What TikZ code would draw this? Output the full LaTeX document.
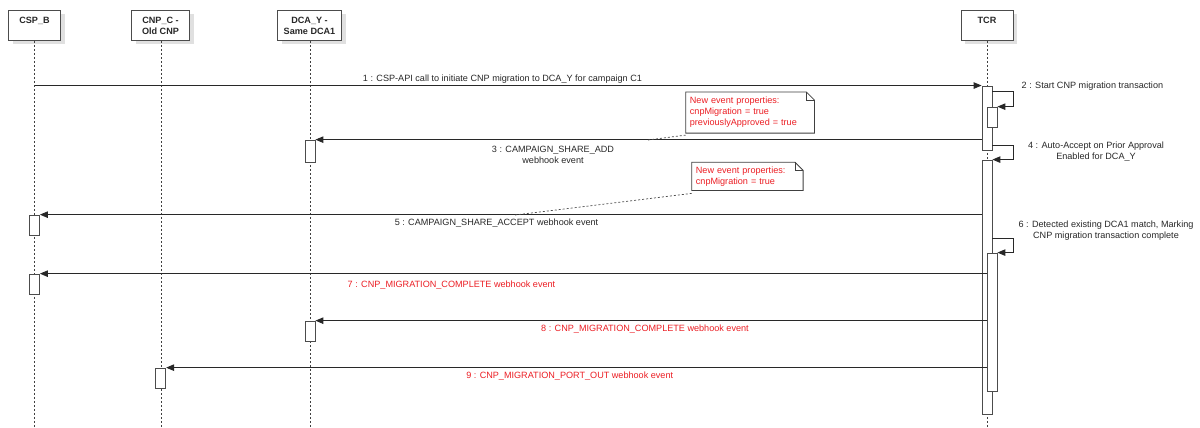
\documentclass[tikz,border=0pt]{standalone}
\usepackage{fontspec}
\setmainfont{Liberation Sans}
\usetikzlibrary{arrows.meta,calc,shadows}
\definecolor{evred}{RGB}{236,30,36}
\definecolor{ink}{RGB}{40,40,40}

% folded-corner outline drawn around a note node
\newcommand\foldednote[1]{%
  \draw[noteline] (#1.north west) -- ([xshift=-8pt]#1.north east)
    -- ([yshift=-8pt]#1.north east) -- (#1.south east) -- (#1.south west) -- cycle;
  \draw[noteline] ([xshift=-8pt]#1.north east) |- ([yshift=-8pt]#1.north east);}

\begin{document}
\begin{tikzpicture}[x=1pt,y=-1pt,
  font=\fontsize{9.1}{11}\selectfont,
  lifeline/.style={draw=black!75, line width=0.7pt, dash pattern=on 2pt off 2pt},
  headbox/.style={draw=black!70, fill=white, line width=0.8pt, minimum height=30pt,
    anchor=north, inner sep=0pt,
    drop shadow={shadow xshift=4pt, shadow yshift=-4pt, fill=black!12, opacity=1}},
  headtext/.style={anchor=north, align=center, inner xsep=0pt, inner ysep=7pt,
    font=\fontsize{9.1}{11}\selectfont\bfseries, text=ink},
  bar/.style={draw=black!70, fill=white, line width=0.8pt, minimum width=10pt, inner sep=0pt},
  msg/.style={draw=ink, line width=0.9pt, -{Triangle[length=8pt,width=6.5pt]}},
  lbl/.style={inner sep=0pt, align=center, text=ink},
  redlbl/.style={lbl, text=evred},
  notebox/.style={fill=white, inner sep=4pt, align=left, text=evred, anchor=north west},
  noteline/.style={draw=black!75, line width=0.8pt},
  notelink/.style={draw=black!70, line width=0.7pt, dash pattern=on 2pt off 2pt},
]
\useasboundingbox[fill=white] (0,0) rectangle (1200,428);

% participants
\node[headbox, minimum width=52pt, label={[headtext]north:CSP\_B}] (csp) at (34.5,10) {};
\node[headbox, minimum width=58pt, label={[headtext]north:CNP\_C -\\Old CNP}] (cnp) at (160.5,10) {};
\node[headbox, minimum width=64pt, label={[headtext]north:DCA\_Y -\\Same DCA1}] (dca) at (309.5,10) {};
\node[headbox, minimum width=52pt, label={[headtext]north:TCR}] (tcr) at (987,10) {};

% lifeline ends
\coordinate (lcsp) at (34.5,428);
\coordinate (lcnp) at (161,428);
\coordinate (ldca) at (310,428);
\coordinate (ltcr) at (987,428);
\draw[lifeline] (csp.south -| lcsp) -- (lcsp);
\draw[lifeline] (cnp.south -| lcnp) -- (lcnp);
\draw[lifeline] (dca.south -| ldca) -- (ldca);
\draw[lifeline] (tcr.south) -- (ltcr);

% activation bars
\node[bar, minimum height=64.7pt] (tcrA) at (987,118.3) {};
\node[bar, minimum height=20.7pt] (tcrB) at (992,117.4) {};
\node[bar, minimum height=254pt]  (tcrC) at (987,287) {};
\node[bar, minimum height=138pt]  (tcrD) at (992,322) {};
\node[bar, minimum height=22.5pt] (dcaA) at (310,151.3) {};
\node[bar, minimum height=20.7pt] (cspA) at (34.5,225.4) {};
\node[bar, minimum height=20.7pt] (cspB) at (34.5,284.4) {};
\node[bar, minimum height=20.7pt] (dcaB) at (310,331.4) {};
\node[bar, minimum height=20.7pt] (cnpA) at (160.7,378.4) {};

% messages
\draw[msg] (lcsp |- tcrA.north) -- (tcrA.north west);
\draw[msg] ($(tcrA.north east)+(0,6)$) -- ++(21,0) |- (tcrB.north east);
\draw[msg] (tcrA.west |- dcaA.north) -- (dcaA.north east);
\draw[msg] ($(tcrA.south east)+(0,-6)$) -- ++(21,0) |- (tcrC.north east);
\draw[msg] (tcrC.west |- cspA.north) -- (cspA.north east);
\draw[msg] ($(tcrD.north -| tcrC.east)+(0,-14)$) -- ++(21,0) |- (tcrD.north east);
\draw[msg] (tcrD.west |- cspB.north) -- (cspB.north east);
\draw[msg] (tcrD.west |- dcaB.north) -- (dcaB.north east);
\draw[msg] (tcrD.west |- cnpA.north) -- (cnpA.north east);

% message labels
\node[lbl] (m1) at (502.5,79.5) {1 : CSP-API call to initiate CNP migration to DCA\_Y for campaign C1};
\node[lbl, anchor=west] (m2) at (1021.5,86.5) {2 : Start CNP migration transaction};
\node[lbl] (m3) at (553,154.5) {3 : CAMPAIGN\_SHARE\_ADD\\webhook event};
\node[lbl] (m4) at (1096,151.7) {4 : Auto-Accept on Prior Approval\\Enabled for DCA\_Y};
\node[lbl] (m5) at (496.5,223) {5 : CAMPAIGN\_SHARE\_ACCEPT webhook event};
\node[lbl] (m6) at (1106,230.5) {6 : Detected existing DCA1 match, Marking\\CNP migration transaction complete};
\node[redlbl] (m7) at (451.5,285) {7 : CNP\_MIGRATION\_COMPLETE webhook event};
\node[redlbl] (m8) at (645,329) {8 : CNP\_MIGRATION\_COMPLETE webhook event};
\node[redlbl] (m9) at (569.7,376) {9 : CNP\_MIGRATION\_PORT\_OUT webhook event};

% notes attached to messages 3 and 5
\node[notebox, minimum width=128.3pt, minimum height=40.7pt, text width=120.3pt] (n1) at (685.7,92)
  {New event properties:\\cnpMigration = true\\previouslyApproved = true};
\foldednote{n1}
\node[notebox, minimum width=111pt, minimum height=27.7pt, text width=103pt] (n2) at (691.7,162.3)
  {New event properties:\\cnpMigration = true};
\foldednote{n2}
\coordinate (a3) at (648,140);
\coordinate (a5) at (515,215);
\draw[notelink] ($(n1.south west)+(0,2)$) -- (a3);
\draw[notelink] ($(n2.south west)+(0,3)$) -- (a5);
\end{tikzpicture}
\end{document}
